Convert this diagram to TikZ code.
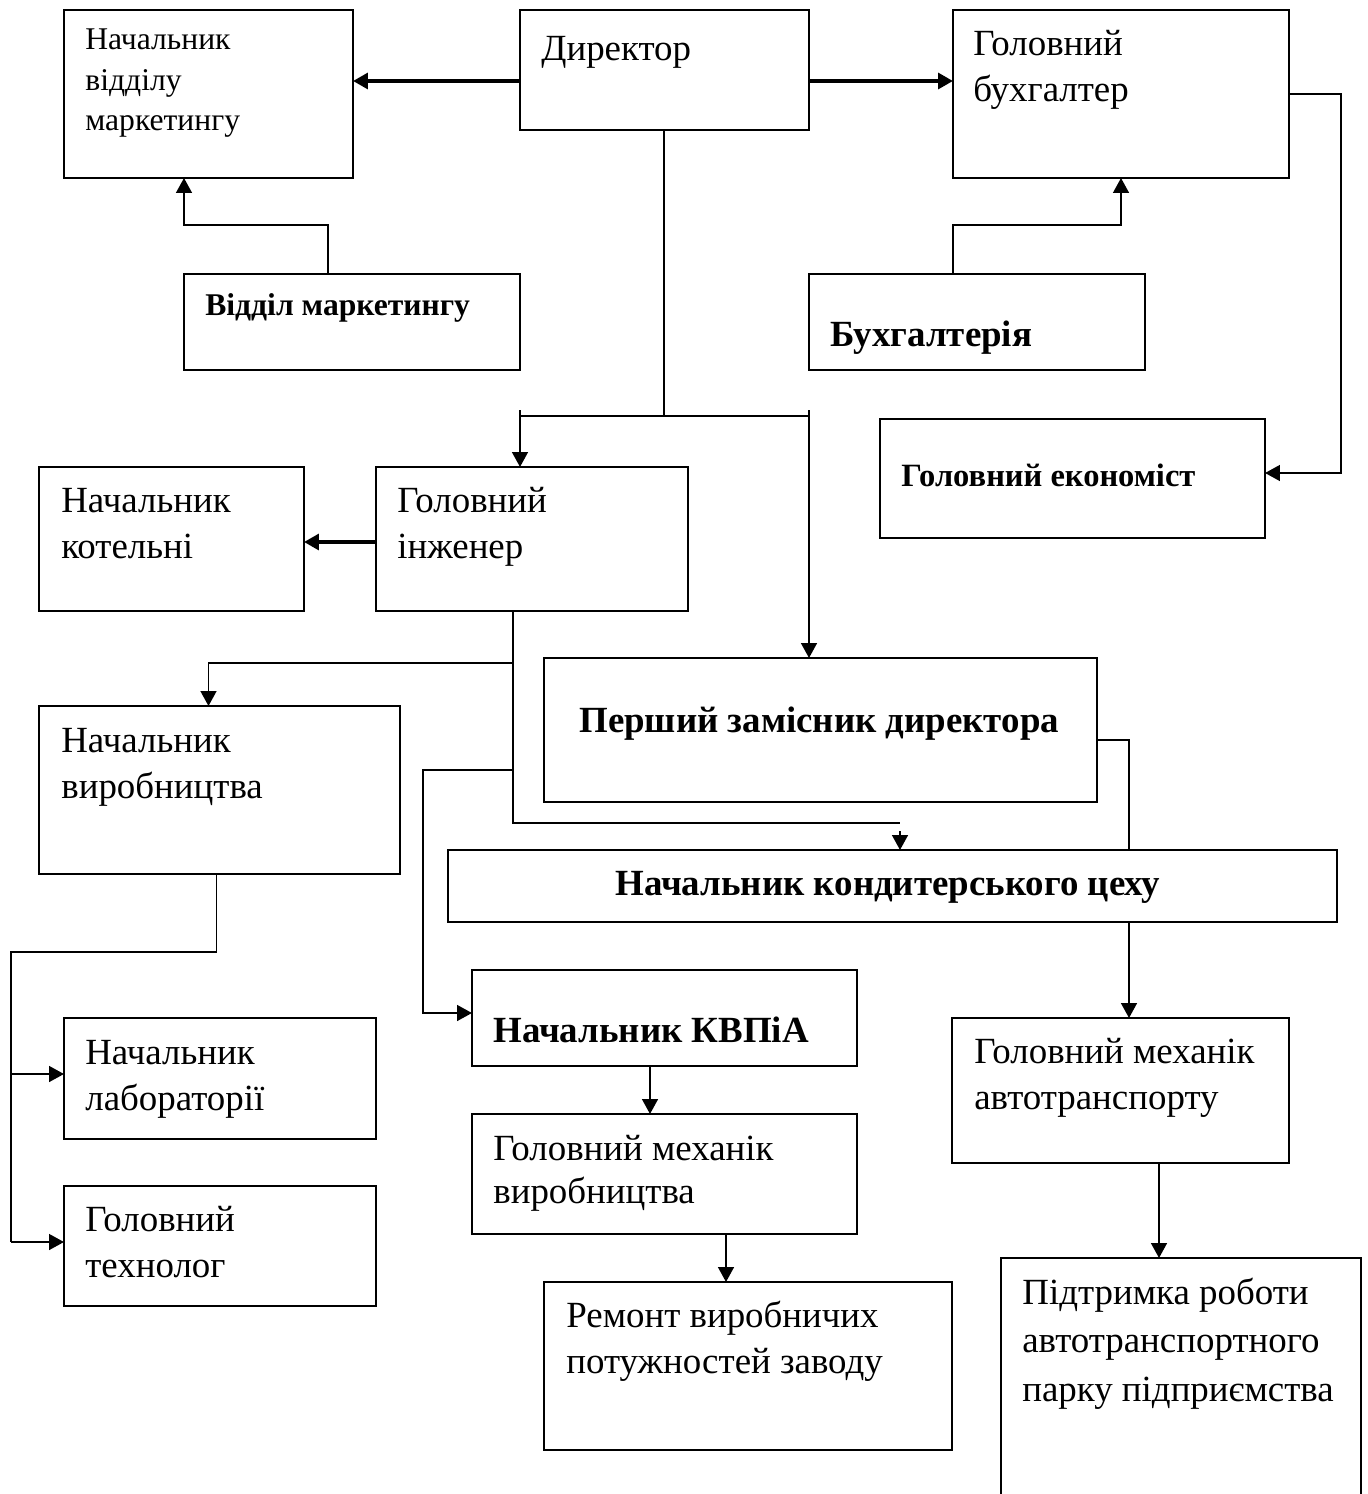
\documentclass[tikz,border=0pt]{standalone}
\usepackage{fontspec}
\setmainfont{Liberation Serif}
\usetikzlibrary{arrows.meta,fit}

% first line of a block sits on the node's base
\newcommand{\toplines}[1]{\parbox[t]{9cm}{#1}}

\begin{document}
\begin{tikzpicture}[x=0.02cm,y=-0.02cm]

\tikzset{orgbox/.style={draw=black, line width=1.1pt, inner sep=0pt, outer sep=0pt, rectangle}}
\tikzset{orgtext/.style={anchor=base west, inner sep=0pt, align=left, font=\fontsize{21}{26.2}\selectfont}}
\tikzset{orgbold/.style={orgtext, font=\fontsize{21}{26.2}\selectfont\bfseries}}
\tikzset{link/.style={draw=black, line width=1.1pt}}
\tikzset{arrow/.style={link, -{Triangle[length=8.5pt, width=9pt]}}}
\tikzset{thickarrow/.style={arrow, line width=2pt}}

\useasboundingbox (0,0) rectangle (1367,1494);

% boxes
\node[orgbox, fit={(64,10) (353,178)}] (mkthead) {};
\node[orgbox, fit={(520,10) (809,130)}] (dir) {};
\node[orgbox, fit={(953,10) (1289,178)}] (buh) {};
\node[orgbox, fit={(184,274) (520,370)}] (mktdept) {};
\node[orgbox, fit={(809,274) (1145,370)}] (buhdept) {};
\node[orgbox, fit={(880,419) (1265,538)}] (econ) {};
\node[orgbox, fit={(39,467) (304,611)}] (kotel) {};
\node[orgbox, fit={(376,467) (688,611)}] (eng) {};
\node[orgbox, fit={(39,706) (400,874)}] (vyrob) {};
\node[orgbox, fit={(544,658) (1097,802)}] (pershyi) {};
\node[orgbox, fit={(448,850) (1337,922)}] (konf) {};
\node[orgbox, fit={(472,970) (857,1066)}] (kvpia) {};
\node[orgbox, fit={(64,1018) (376,1139)}] (lab) {};
\node[orgbox, fit={(64,1186) (376,1306)}] (tech) {};
\node[orgbox, fit={(472,1114) (857,1234)}] (mechv) {};
\node[orgbox, fit={(544,1282) (952,1450)}] (remont) {};
\node[orgbox, fit={(952,1018) (1289,1163)}] (avtomech) {};
\node[orgbox, fit={(1001,1258) (1361,1520)}] (pidtr) {};

% texts
\node[orgtext, font=\fontsize{18}{22.8}\selectfont] (mktheadtxt) at ([shift={(21,40)}]mkthead.north west) {\toplines{Начальник\\відділу\\маркетингу}};
\node[orgtext] (dirtxt) at ([shift={(21,50)}]dir.north west) {Директор};
\node[orgtext, font=\fontsize{21}{26.7}\selectfont] (buhtxt) at ([shift={(20,45)}]buh.north west) {\toplines{Головний\\бухгалтер}};
\node[orgbold, font=\fontsize{18}{22}\selectfont\bfseries] (mktdepttxt) at ([shift={(21,41)}]mktdept.north west) {Відділ маркетингу};
\node[orgbold] (buhdepttxt) at ([shift={(21,72)}]buhdept.north west) {Бухгалтерія};
\node[orgbold, font=\fontsize{18.5}{22}\selectfont\bfseries] (econtxt) at ([shift={(21,67)}]econ.north west) {Головний економіст};
\node[orgtext] (koteltxt) at ([shift={(22,45)}]kotel.north west) {\toplines{Начальник\\котельні}};
\node[orgtext] (engtxt) at ([shift={(21,45)}]eng.north west) {\toplines{Головний\\інженер}};
\node[orgtext] (vyrobtxt) at ([shift={(22,46)}]vyrob.north west) {\toplines{Начальник\\виробництва}};
\node[orgbold] (pershyitxt) at ([shift={(35,74)}]pershyi.north west) {Перший замісник директора};
\node[orgbold] (konftxt) at ([shift={(167,45)}]konf.north west) {Начальник кондитерського цеху};
\node[orgbold] (kvpiatxt) at ([shift={(21,72)}]kvpia.north west) {Начальник КВПіА};
\node[orgtext] (labtxt) at ([shift={(21,46)}]lab.north west) {\toplines{Начальник\\лабораторії}};
\node[orgtext] (techtxt) at ([shift={(21,45)}]tech.north west) {\toplines{Головний\\технолог}};
\node[orgtext, font=\fontsize{21}{25}\selectfont] (mechvtxt) at ([shift={(21,46)}]mechv.north west) {\toplines{Головний механік\\виробництва}};
\node[orgtext] (remonttxt) at ([shift={(22,45)}]remont.north west) {\toplines{Ремонт виробничих\\потужностей заводу}};
\node[orgtext, font=\fontsize{21}{26.7}\selectfont] (avtomechtxt) at ([shift={(22,45)}]avtomech.north west) {\toplines{Головний механік\\автотранспорту}};
\node[orgtext, font=\fontsize{21}{27.6}\selectfont] (pidtrtxt) at ([shift={(21,46)}]pidtr.north west) {\toplines{Підтримка роботи\\автотранспортного\\парку підприємства}};

% helper coordinates
\coordinate (dirlvl) at (0,81);
\coordinate (mktup) at (328,225);
\coordinate (mktin) at (184,0);
\coordinate (buhup) at (953,225);
\coordinate (buhin) at (1121,0);
\coordinate (buhout) at (1341,94);
\coordinate (econin) at (0,473);
\coordinate (dirbus) at (664,416);
\coordinate (engin) at (520,410);
\coordinate (pershin) at (809,410);
\coordinate (englvl) at (0,542);
\coordinate (engtrunk) at (513,823);
\coordinate (konfin) at (900,831);
\coordinate (vyrobin) at (208.5,663);
\coordinate (kvpiabus) at (423,770);
\coordinate (kvpialvl) at (0,1013);
\coordinate (pershout) at (1129,740);
\coordinate (vyrobout) at (216.5,952);
\coordinate (labbus) at (11,952);
\coordinate (lablvl) at (0,1074);
\coordinate (techlvl) at (0,1242);
\coordinate (kvpiaout) at (650,0);
\coordinate (mechvout) at (726,0);
\coordinate (avtoout) at (1159,0);

% director
\draw[thickarrow] (dir.west |- dirlvl) -- (mkthead.east |- dirlvl);
\draw[thickarrow] (dir.east |- dirlvl) -- (buh.west |- dirlvl);
\draw[link] (dir.south -| dirbus) -- (dirbus);
\draw[link] (engin |- dirbus) -- (pershin |- dirbus);
\draw[arrow] (engin) -- (engin |- eng.north);
\draw[arrow] (pershin) -- (pershin |- pershyi.north);

% departments
\draw[arrow] (mktdept.north -| mktup) |- (mktin |- mktup) -- (mktin |- mkthead.south);
\draw[arrow] (buhdept.north -| buhup) |- (buhin |- buhup) -- (buhin |- buh.south);
\draw[arrow] (buh.east |- buhout) -- (buhout) |- (econ.east |- econin);

% chief engineer
\draw[thickarrow] (eng.west |- englvl) -- (kotel.east |- englvl);
\draw[link] (eng.south -| engtrunk) -- (engtrunk) -- (engtrunk -| konfin);
\draw[arrow] (konfin) -- (konfin |- konf.north);
\draw[arrow] (engtrunk |- vyrobin) -| (vyrob.north -| vyrobin);
\draw[arrow] (engtrunk |- kvpiabus) -- (kvpiabus) |- (kvpia.west |- kvpialvl);

% first deputy
\draw[link] (pershyi.east |- pershout) -- (pershout) -- (pershout |- konf.north);
\draw[arrow] (konf.south -| pershout) -- (avtomech.north -| pershout);

% production
\draw[link] (vyrob.south -| vyrobout) -- (vyrobout) -- (labbus) -- (labbus |- techlvl);
\draw[arrow] (labbus |- lablvl) -- (lab.west |- lablvl);
\draw[arrow] (labbus |- techlvl) -- (tech.west |- techlvl);

% lower chains
\draw[arrow] (kvpia.south -| kvpiaout) -- (mechv.north -| kvpiaout);
\draw[arrow] (mechv.south -| mechvout) -- (remont.north -| mechvout);
\draw[arrow] (avtomech.south -| avtoout) -- (pidtr.north -| avtoout);

\end{tikzpicture}
\end{document}
